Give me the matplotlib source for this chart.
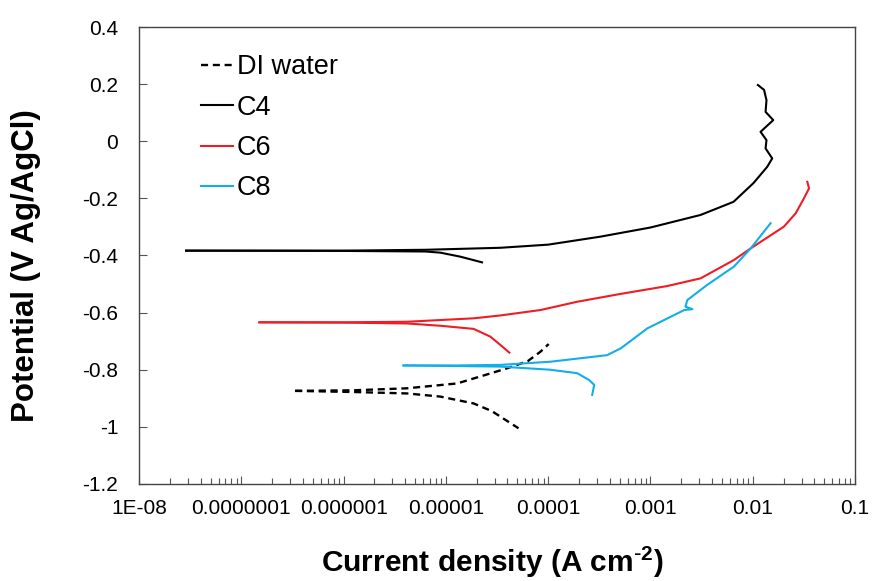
import numpy as np
import matplotlib
matplotlib.use("Agg")
import matplotlib.pyplot as plt
from matplotlib.ticker import FixedLocator, LogLocator, NullFormatter

plt.rcParams['font.family'] = ['Liberation Sans', 'DejaVu Sans']

# data: log10 of current density, potential (V)
di_an_logi = [-6.474, -5.9, -5.38, -4.89, -4.566, -4.402, -4.2, -4.076, -3.995]
di_an_e = [-0.874, -0.872, -0.865, -0.848, -0.813, -0.795, -0.77, -0.737, -0.71]
di_ca_logi = [-6.474, -5.9, -5.38, -5.055, -4.729, -4.55, -4.468, -4.29]
di_ca_e = [-0.874, -0.878, -0.883, -0.894, -0.918, -0.945, -0.964, -1.005]

c4_an_logi = [-7.54, -6.0, -5.2, -4.468, -4.0, -3.489, -3.0, -2.51, -2.188, -1.992,
              -1.858, -1.81, -1.875, -1.866, -1.924, -1.80, -1.875, -1.866, -1.89, -1.95]
c4_an_e = [-0.383, -0.383, -0.38, -0.373, -0.362, -0.334, -0.302, -0.258, -0.212, -0.146,
           -0.089, -0.06, -0.025, 0.004, 0.033, 0.074, 0.103, 0.144, 0.18, 0.197]
c4_ca_logi = [-7.54, -6.0, -5.2, -5.055, -4.86, -4.647]
c4_ca_e = [-0.383, -0.384, -0.386, -0.39, -0.404, -0.424]

c6_an_logi = [-6.823, -6.0, -5.38, -4.73, -4.468, -4.076, -3.717, -3.3, -2.837, -2.51,
              -2.185, -2.02, -1.696, -1.58, -1.5, -1.45, -1.467]
c6_an_e = [-0.634, -0.634, -0.632, -0.62, -0.61, -0.591, -0.562, -0.535, -0.507, -0.48,
           -0.416, -0.375, -0.299, -0.252, -0.2, -0.165, -0.142]
c6_ca_logi = [-6.823, -6.0, -5.38, -5.055, -4.729, -4.566, -4.468, -4.38]
c6_ca_e = [-0.634, -0.635, -0.638, -0.646, -0.657, -0.684, -0.713, -0.740]

c8_an_logi = [-5.414, -4.9, -4.468, -3.98, -3.424, -3.29, -3.03, -2.67, -2.59, -2.658,
              -2.64, -2.446, -2.185, -2.02, -1.826]
c8_an_e = [-0.785, -0.785, -0.783, -0.772, -0.749, -0.725, -0.655, -0.591, -0.588, -0.579,
           -0.556, -0.503, -0.439, -0.375, -0.287]
c8_ca_logi = [-5.414, -4.9, -4.468, -3.98, -3.717, -3.6, -3.55, -3.57]
c8_ca_e = [-0.785, -0.787, -0.789, -0.80, -0.812, -0.836, -0.853, -0.888]

x_ticks = [1e-8, 1e-7, 1e-6, 1e-5, 1e-4, 1e-3, 1e-2, 1e-1]
x_labels = ['1E-08', '0.0000001', '0.000001', '0.00001', '0.0001', '0.001', '0.01', '0.1']
y_ticks = [-1.2, -1.0, -0.8, -0.6, -0.4, -0.2, 0.0, 0.2, 0.4]
y_labels = ['-1.2', '-1', '-0.8', '-0.6', '-0.4', '-0.2', '0', '0.2', '0.4']

red = '#ee1c25'
blue = '#12aee8'

fig = plt.figure(figsize=(8.77, 5.81), dpi=100)
ax = fig.add_axes([0.1585, 0.167, 0.8165, 0.7865])

p = lambda v: np.power(10.0, v)
ax.plot(p(di_an_logi), di_an_e, color='black', ls=(0, (3, 2)), lw=1.7, label='DI water')
ax.plot(p(di_ca_logi), di_ca_e, color='black', ls=(0, (3, 2)), lw=1.7)
ax.plot(p(c4_an_logi), c4_an_e, color='black', lw=1.5, label='C4')
ax.plot(p(c4_ca_logi), c4_ca_e, color='black', lw=1.5)
ax.plot(p(c6_an_logi), c6_an_e, color=red, lw=1.5, label='C6')
ax.plot(p(c6_ca_logi), c6_ca_e, color=red, lw=1.5)
ax.plot(p(c8_an_logi), c8_an_e, color=blue, lw=1.5, label='C8')
ax.plot(p(c8_ca_logi), c8_ca_e, color=blue, lw=1.5)

ax.set_xscale('log')
ax.set_xlim(1e-8, 1e-1)
ax.set_ylim(-1.2, 0.4)
ax.xaxis.set_major_locator(FixedLocator(x_ticks))
ax.set_xticklabels(x_labels)
ax.xaxis.set_minor_locator(LogLocator(base=10, subs=np.arange(2, 10)))
ax.xaxis.set_minor_formatter(NullFormatter())
ax.set_yticks(y_ticks)
ax.set_yticklabels(y_labels)

ax.tick_params(axis='x', which='major', direction='in', labelsize=15, length=6,
               width=0.8, pad=11, colors='#555555', labelcolor='black')
ax.tick_params(axis='y', which='major', direction='in', labelsize=15, length=6,
               width=0.8, pad=15, colors='#555555', labelcolor='black')
ax.tick_params(axis='x', which='minor', direction='in', length=4, width=0.8, colors='#555555')
for s in ax.spines.values():
    s.set_color('#444444')
    s.set_linewidth(1.0)

ax.set_xlabel(r'Current density (A cm$^{\mathregular{\text{-}2}}$)', fontsize=21.5,
              fontweight='bold')
ax.xaxis.set_label_coords(0.494, -0.132)
ax.set_ylabel('Potential (V Ag/AgCl)', fontsize=22.5, fontweight='bold')
ax.yaxis.set_label_coords(-0.137, 0.477)

ax.legend(loc='upper left', bbox_to_anchor=(0.072, 0.964), frameon=False, fontsize=19.5,
          handlelength=1.15, handletextpad=0.15, labelspacing=0.53, borderaxespad=0)

fig.savefig('out.png', dpi=100)
